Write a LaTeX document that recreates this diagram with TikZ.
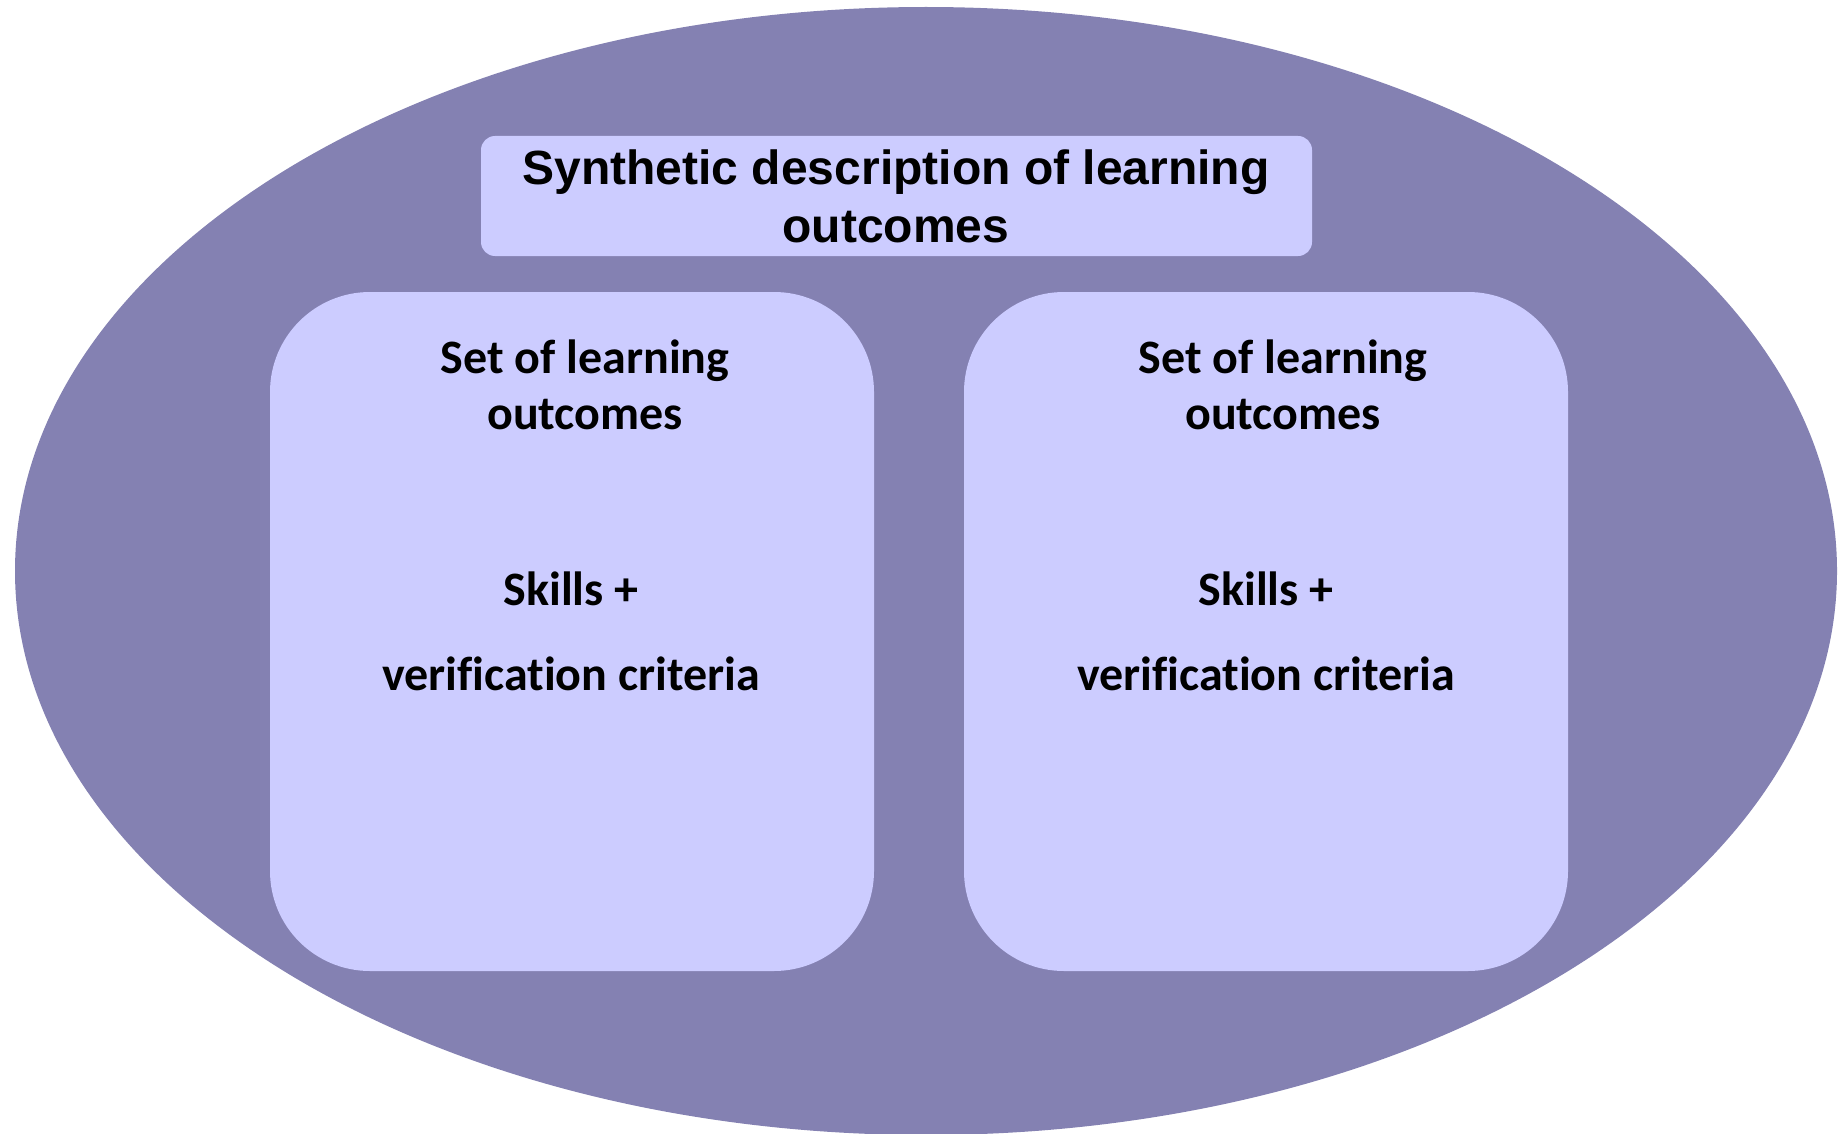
\documentclass[tikz,border=0pt]{standalone}
\usepackage{fontspec}
\setmainfont{Liberation Sans}
\newfontfamily\titlefont{Liberation Sans}
\newfontfamily\boxfont[Ligatures=NoCommon]{Carlito}
\definecolor{outerfill}{RGB}{132,129,178}
\definecolor{panelfill}{RGB}{204,204,255}
\begin{document}
\begin{tikzpicture}[x=1pt,y=-1pt,
  panel/.style={fill=panelfill, draw=none},
  titletext/.style={anchor=base, inner sep=0pt, font=\titlefont\bfseries\fontsize{48}{56}\selectfont},
  boxtext/.style={anchor=base, inner sep=0pt, font=\boxfont\bfseries\fontsize{48}{58}\selectfont}]
  \useasboundingbox (0,0) rectangle (1846,1134);
  % outer ellipse
  \begin{scope}
    \clip (0,0) rectangle (1846,1134);
    \fill[outerfill] (926,571) ellipse [x radius=911, y radius=564];
  \end{scope}
  % title panel
  \path[panel, rounded corners=14pt] (481,136) rectangle (1312,256);
  \node[titletext] (t1) at (896,185) {Synthetic description of learning};
  \node[titletext] (t2) at (896,242) {outcomes};
  % left panel
  \path[panel, rounded corners=100pt] (270,292) rectangle (874,971);
  \node[boxtext] (l1) at (585,373) {Set of learning};
  \node[boxtext] (l2) at (585,429) {outcomes};
  \node[boxtext] (l3) at (571,605) {Skills +};
  \node[boxtext] (l4) at (571,690) {verification criteria};
  % right panel
  \path[panel, rounded corners=100pt] (964,292) rectangle (1568,971);
  \node[boxtext] (r1) at (1283,373) {Set of learning};
  \node[boxtext] (r2) at (1283,429) {outcomes};
  \node[boxtext] (r3) at (1266,605) {Skills +};
  \node[boxtext] (r4) at (1266,690) {verification criteria};
\end{tikzpicture}
\end{document}
